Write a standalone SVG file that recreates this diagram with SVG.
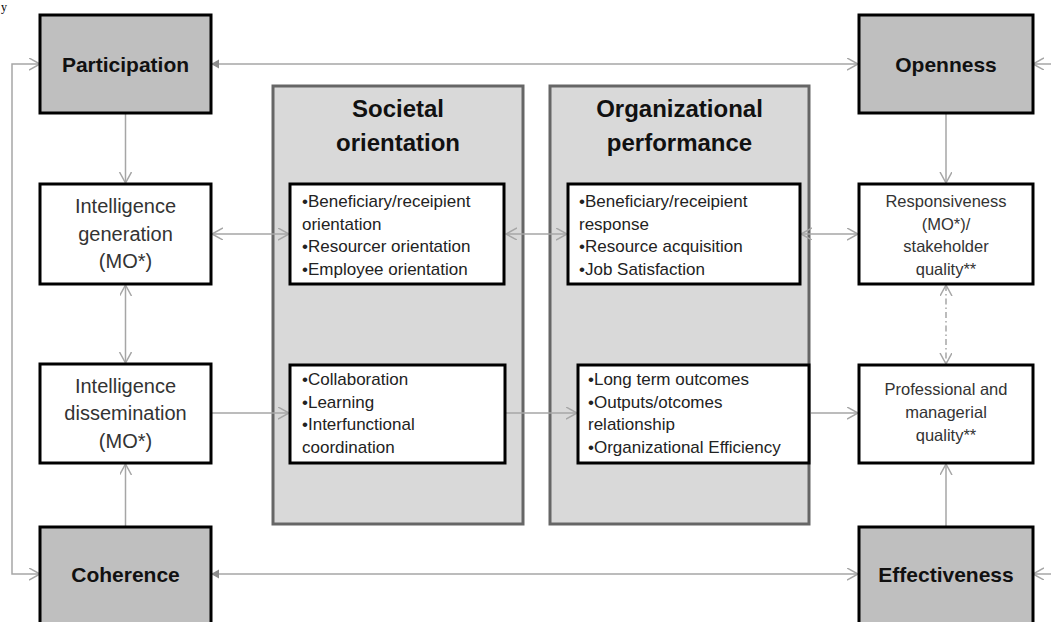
<svg xmlns="http://www.w3.org/2000/svg" width="1051" height="622" viewBox="0 0 1051 622">
  <style>
    .dark { fill: #bfbfbf; stroke: #000; stroke-width: 3; }
    .white { fill: #fff; stroke: #000; stroke-width: 3; }
    .big { fill: #d9d9d9; stroke: #666; stroke-width: 3; }
    .conn { fill: none; stroke: #a6a6a6; stroke-width: 1.5; }
    .dashdot { stroke-dasharray: 6 3 1.5 3; }
    .t-head { font-family: "Liberation Sans", Arial, sans-serif; font-weight: bold; font-size: 21px; fill: #111; text-anchor: middle; }
    .t-title { font-family: "Liberation Sans", Arial, sans-serif; font-weight: bold; font-size: 24px; fill: #111; text-anchor: middle; }
    .t-mid { font-family: "Liberation Sans", Arial, sans-serif; font-size: 20px; fill: #333; text-anchor: middle; }
    .t-small { font-family: "Liberation Sans", Arial, sans-serif; font-size: 16.5px; fill: #333; text-anchor: middle; }
    .t-list { font-family: "Liberation Sans", Arial, sans-serif; font-size: 17px; fill: #222; }
  </style>
  <defs>
    <marker id="open" markerUnits="userSpaceOnUse" markerWidth="14" markerHeight="14" refX="11" refY="6" orient="auto-start-reverse" viewBox="0 0 14 14">
      <path d="M0,0 L11,6 L0,12" fill="none" stroke="#a6a6a6" stroke-width="1.5"/>
    </marker>
    <marker id="filled" markerUnits="userSpaceOnUse" markerWidth="10" markerHeight="10" refX="8" refY="4.5" orient="auto-start-reverse" viewBox="0 0 10 10">
      <path d="M0,0 L8,4.5 L0,9 Z" fill="#8c8c8c"/>
    </marker>
  </defs>
  <rect width="1051" height="622" fill="#fff"/>

  <text x="1" y="11" font-family="Liberation Serif, serif" font-size="12" fill="#000">y</text>

  <!-- big container boxes -->
  <g id="societal-orientation">
    <rect class="big" x="273" y="86" width="250" height="438"/>
    <text class="t-title" x="398" y="117">Societal</text>
    <text class="t-title" x="398" y="151">orientation</text>
  </g>
  <g id="organizational-performance">
    <rect class="big" x="550" y="86" width="259" height="438"/>
    <text class="t-title" x="679.5" y="117">Organizational</text>
    <text class="t-title" x="679.5" y="151">performance</text>
  </g>

  <!-- connectors -->
  <g id="connectors">
    <path class="conn" d="M211,64 H858" marker-start="url(#filled)" marker-end="url(#open)"/>
    <path class="conn" d="M211,574 H858" marker-start="url(#filled)" marker-end="url(#open)"/>
    <path class="conn" d="M40,64 H12 V574 H40" marker-start="url(#open)" marker-end="url(#open)"/>
    <path class="conn" d="M1053,64 H1033" marker-end="url(#open)"/>
    <path class="conn" d="M1053,574 H1033" marker-end="url(#open)"/>
    <path class="conn" d="M125.5,113 V183" marker-end="url(#open)"/>
    <path class="conn" d="M125.5,285 V363" marker-start="url(#open)" marker-end="url(#open)"/>
    <path class="conn" d="M125.5,526 V464" marker-end="url(#open)"/>
    <path class="conn" d="M946,113 V183" marker-end="url(#open)"/>
    <path class="conn dashdot" d="M946,285 V364" marker-start="url(#open)" marker-end="url(#open)"/>
    <path class="conn" d="M946,526 V464" marker-end="url(#open)"/>
    <path class="conn" d="M212,234 H289" marker-start="url(#open)" marker-end="url(#open)"/>
    <path class="conn" d="M506,234 H567" marker-start="url(#open)" marker-end="url(#open)"/>
    <path class="conn" d="M801,234 H858" marker-start="url(#open)" marker-end="url(#open)"/>
    <path class="conn" d="M212,413 H289" marker-end="url(#open)"/>
    <path class="conn" d="M506,413 H577" marker-end="url(#open)"/>
    <path class="conn" d="M811,413 H858" marker-end="url(#open)"/>
  </g>

  <g id="participation">
    <rect class="dark" x="40" y="15" width="171" height="98"/>
    <text class="t-head" x="125.5" y="72">Participation</text>
  </g>
  <g id="openness">
    <rect class="dark" x="859" y="15" width="174" height="98"/>
    <text class="t-head" x="946" y="72">Openness</text>
  </g>
  <g id="coherence">
    <rect class="dark" x="40" y="527" width="171" height="99"/>
    <text class="t-head" x="125.5" y="582">Coherence</text>
  </g>
  <g id="effectiveness">
    <rect class="dark" x="859" y="527" width="174" height="99"/>
    <text class="t-head" x="946" y="582">Effectiveness</text>
  </g>

  <g id="intelligence-generation">
    <rect class="white" x="40" y="184" width="171" height="100"/>
    <text class="t-mid" x="125.5" y="213">Intelligence</text>
    <text class="t-mid" x="125.5" y="241">generation</text>
    <text class="t-mid" x="125.5" y="268">(MO*)</text>
  </g>
  <g id="intelligence-dissemination">
    <rect class="white" x="40" y="364" width="171" height="99"/>
    <text class="t-mid" x="125.5" y="393">Intelligence</text>
    <text class="t-mid" x="125.5" y="420">dissemination</text>
    <text class="t-mid" x="125.5" y="448">(MO*)</text>
  </g>

  <g id="responsiveness">
    <rect class="white" x="859" y="184" width="174" height="100"/>
    <text class="t-small" x="946" y="207">Responsiveness</text>
    <text class="t-small" x="946" y="230">(MO*)/</text>
    <text class="t-small" x="946" y="252">stakeholder</text>
    <text class="t-small" x="946" y="275">quality**</text>
  </g>
  <g id="professional-quality">
    <rect class="white" x="859" y="365" width="174" height="98"/>
    <text class="t-small" x="946" y="395">Professional and</text>
    <text class="t-small" x="946" y="418">managerial</text>
    <text class="t-small" x="946" y="441">quality**</text>
  </g>

  <g id="societal-top">
    <rect class="white" x="290" y="184" width="214" height="100"/>
    <text class="t-list" x="302" y="207">•Beneficiary/receipient</text>
    <text class="t-list" x="302" y="229.5">orientation</text>
    <text class="t-list" x="302" y="252">•Resourcer orientation</text>
    <text class="t-list" x="302" y="274.5">•Employee orientation</text>
  </g>
  <g id="performance-top">
    <rect class="white" x="568" y="184" width="232" height="100"/>
    <text class="t-list" x="579" y="207">•Beneficiary/receipient</text>
    <text class="t-list" x="579" y="229.5">response</text>
    <text class="t-list" x="579" y="252">•Resource acquisition</text>
    <text class="t-list" x="579" y="274.5">•Job Satisfaction</text>
  </g>
  <g id="societal-bottom">
    <rect class="white" x="290" y="365" width="215" height="98"/>
    <text class="t-list" x="302" y="385">•Collaboration</text>
    <text class="t-list" x="302" y="407.5">•Learning</text>
    <text class="t-list" x="302" y="430">•Interfunctional</text>
    <text class="t-list" x="302" y="452.5">coordination</text>
  </g>
  <g id="performance-bottom">
    <rect class="white" x="578" y="365" width="231" height="98"/>
    <text class="t-list" x="588" y="385">•Long term outcomes</text>
    <text class="t-list" x="588" y="407.5">•Outputs/otcomes</text>
    <text class="t-list" x="588" y="430">relationship</text>
    <text class="t-list" x="588" y="452.5">•Organizational Efficiency</text>
  </g>
</svg>
